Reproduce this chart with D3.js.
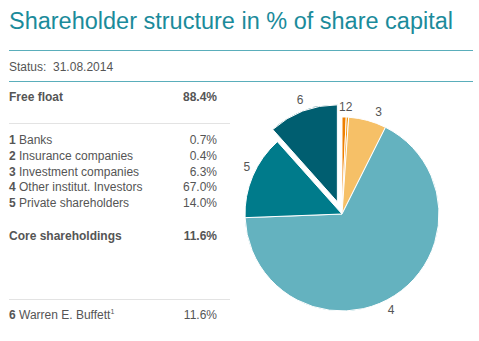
<!DOCTYPE html>
<html>
<head>
<meta charset="utf-8">
<script src="https://d3js.org/d3.v7.min.js"></script>
<style>
  body { margin: 0; background: #fff; }
  svg { display: block; font-family: "Liberation Sans", Arial, sans-serif; }
</style>
</head>
<body>
<div id="chart"></div>
<script>
// shareholder groups, numbered as in the pie
var groupIds    = ["1", "2", "3", "4", "5", "6"];
var groupNames  = ["Banks", "Insurance companies", "Investment companies",
                   "Other institut. Investors", "Private shareholders", "Warren E. Buffett"];
var groupShares = [0.7, 0.4, 6.3, 67.0, 14.0, 11.6];
var groupColors = ["#ee7f00", "#f49b1a", "#f6c067", "#64b2bf", "#007b8b", "#005e70"];
var freeFloat = 88.4;
var coreHoldings = 11.6;
var statusDate = "31.08.2014";

var width = 479, height = 341;
var teal = "#1b8b9b", textGray = "#555";

var svg = d3.select("#chart").append("svg")
    .attr("width", width)
    .attr("height", height);

// header
svg.append("text")
    .attr("x", 9).attr("y", 29)
    .attr("fill", teal)
    .style("font-size", "23px")
    .attr("textLength", 444)
    .attr("lengthAdjust", "spacingAndGlyphs")
    .text("Shareholder structure in % of share capital");

svg.append("line").attr("x1", 9).attr("x2", 473).attr("y1", 50.5).attr("y2", 50.5)
    .attr("stroke", "#5aaebb").attr("stroke-width", 1);

svg.append("text")
    .attr("x", 9).attr("y", 71)
    .attr("fill", textGray)
    .style("font-size", "12px")
    .text("Status:\u00a0\u00a0" + statusDate);

svg.append("line").attr("x1", 9).attr("x2", 473).attr("y1", 81.5).attr("y2", 81.5)
    .attr("stroke", "#5aaebb").attr("stroke-width", 1);

// table on the left
var fmt = function(v) { return v.toFixed(1) + "%"; };
var table = svg.append("g").style("font-size", "12px").attr("fill", textGray);

function row(y, label, value, bold, num) {
    var t = table.append("text").attr("x", 9).attr("y", y);
    if (num) t.append("tspan").style("font-weight", "bold").text(num + " ");
    t.append("tspan").style("font-weight", bold ? "bold" : "normal").text(label);
    table.append("text").attr("x", 217).attr("y", y)
        .attr("text-anchor", "end")
        .style("font-weight", bold ? "bold" : "normal")
        .text(fmt(value));
    return t;
}

row(101, "Free float", freeFloat, true);
table.append("line").attr("x1", 9).attr("x2", 230).attr("y1", 123.5).attr("y2", 123.5)
    .attr("stroke", "#e3e3e3");
for (var i = 0; i < 5; i++) {
    row(144 + i * 15.8, groupNames[i], groupShares[i], false, groupIds[i]);
}
row(240, "Core shareholdings", coreHoldings, true);
table.append("line").attr("x1", 9).attr("x2", 230).attr("y1", 299.5).attr("y2", 299.5)
    .attr("stroke", "#e3e3e3");
var buf = row(319, groupNames[5], groupShares[5], false, groupIds[5]);
buf.append("tspan").attr("dy", -5).style("font-size", "7px").text("1");

// pie
var cx = 342, cy = 214, r = 97, explode = 13;
var data = groupIds.map(function(id, i) {
    return { id: id, value: groupShares[i], color: groupColors[i] };
});

var pie = d3.pie().sort(null).value(function(d) { return d.value; });
var arcs = pie(data);
var arc = d3.arc().innerRadius(0).outerRadius(r);

var g = svg.append("g").attr("transform", "translate(" + cx + "," + cy + ")");

function offset(d) {
    if (d.data.id !== "6") return [0, 0];
    var a = (d.startAngle + d.endAngle) / 2;
    return [Math.sin(a) * explode, -Math.cos(a) * explode];
}

g.selectAll("path")
    .data(arcs)
    .enter().append("path")
    .attr("d", arc)
    .attr("transform", function(d) { var o = offset(d); return "translate(" + o[0] + "," + o[1] + ")"; })
    .attr("fill", function(d) { return d.data.color; })
    .attr("stroke", "#fff")
    .attr("stroke-width", 1);

// label radius and a small angular nudge (degrees) per slice
var labelR   = { "1": 106, "2": 106, "3": 108, "4": 109, "5": 106, "6": 108 };
var labelRot = { "1": 0, "2": 0, "3": 4.5, "4": 6, "5": 3, "6": 0.7 };
// the two thin slices share one spot: "1" ends where "2" starts
var thinMid = (arcs[0].startAngle + arcs[1].endAngle) / 2;

function labelPos(d) {
    var a = (d.startAngle + d.endAngle) / 2;
    if (d.data.id === "1" || d.data.id === "2") a = thinMid;
    a += labelRot[d.data.id] * Math.PI / 180;
    var o = offset(d);
    return [Math.sin(a) * labelR[d.data.id] + o[0], -Math.cos(a) * labelR[d.data.id] + o[1]];
}

g.selectAll("text.lbl")
    .data(arcs)
    .enter().append("text")
    .attr("class", "lbl")
    .attr("x", function(d) { return labelPos(d)[0]; })
    .attr("y", function(d) { return labelPos(d)[1]; })
    .attr("text-anchor", function(d) {
        return d.data.id === "1" ? "end" : d.data.id === "2" ? "start" : "middle";
    })
    .attr("dominant-baseline", "middle")
    .attr("fill", textGray)
    .style("font-size", "12px")
    .text(function(d) { return d.data.id; });
</script>
</body>
</html>
